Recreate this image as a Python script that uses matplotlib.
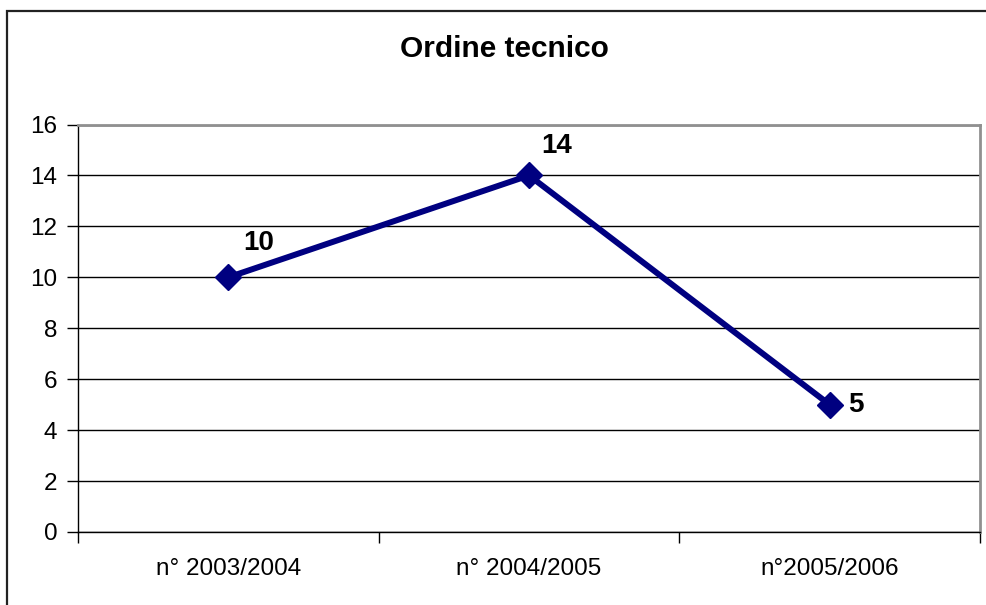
import matplotlib
matplotlib.use("Agg")
import matplotlib.pyplot as plt
from matplotlib.patches import Rectangle

plt.rcParams['font.family'] = ['Liberation Sans', 'DejaVu Sans']

# data
years = ["n° 2003/2004", "n° 2004/2005", "n°2005/2006"]
values = [10, 14, 5]
label_offsets = [(22, 25), (20, 21), (19, 0)]  # points, excel-like label placement
y_ticks = list(range(0, 17, 2))

fig = plt.figure(figsize=(9.86, 6.05), dpi=100)
ax = fig.add_axes([78 / 986, 1 - 532 / 605, (980 - 78) / 986, (532 - 124.5) / 605])

# outer chart border
fig.patches.append(Rectangle((7 / 986, -0.1), 1.2, 1.1 - 11 / 605,
                             transform=fig.transFigure, fill=False,
                             edgecolor='#222222', linewidth=1.6))

x = [i + 0.5 for i in range(len(values))]
ax.plot(x, values, color='#000080', linewidth=4.3, marker='D',
        markersize=13, markerfacecolor='#000080', markeredgecolor='#000080',
        zorder=3, clip_on=False)

for xi, v, off in zip(x, values, label_offsets):
    ax.annotate(str(v), (xi, v), xytext=off, textcoords='offset points',
                ha='center', va='center', fontsize=20, fontweight='bold')

ax.set_xlim(0, 3)
ax.set_ylim(0, 16)
ax.set_yticks(y_ticks)
ax.yaxis.grid(True, color='black', linewidth=1.0)
ax.set_axisbelow(True)

ax.set_xticks([0, 1, 2, 3])
ax.set_xticklabels([])
ax.set_xticks(x, minor=True)
ax.set_xticklabels(years, minor=True)
ax.tick_params(axis='x', which='minor', length=0, labelsize=17.5, pad=19)
ax.tick_params(axis='x', which='major', length=8, width=1.0, direction='out')
ax.tick_params(axis='y', length=8, width=1.0, direction='out', labelsize=17.5, pad=7)

for s in ['left', 'bottom']:
    ax.spines[s].set_color('black')
    ax.spines[s].set_linewidth(1.0)
for s in ['top', 'right']:
    ax.spines[s].set_color('#909090')
    ax.spines[s].set_linewidth(2.0)

fig.text(504 / 986, 1 - 49 / 605, "Ordine tecnico", ha='center', va='center',
         fontsize=21.5, fontweight='bold')

fig.savefig("out.png", dpi=100)
